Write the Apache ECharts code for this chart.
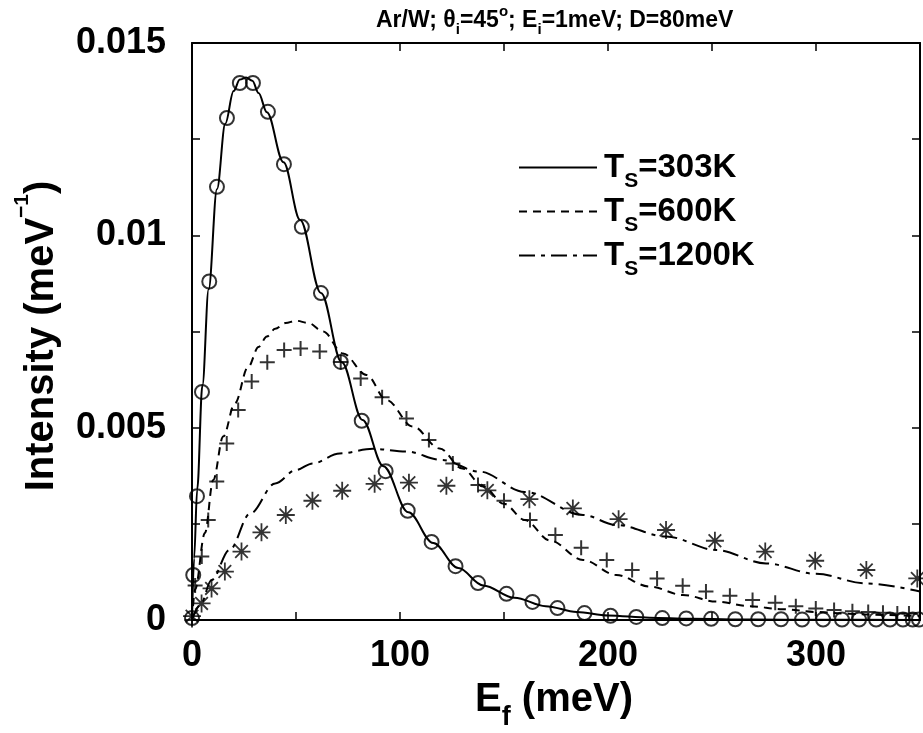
<!DOCTYPE html>
<html>
<head>
<meta charset="utf-8">
<script src="https://cdn.jsdelivr.net/npm/echarts@6/dist/echarts.min.js"></script>
<style>
  html, body { margin: 0; padding: 0; background: #fff; }
  #chart { width: 923px; height: 733px; }
</style>
</head>
<body>
<div id="chart"></div>
<script>
// Ar/W energy distributions: simulated points and model curves at three surface temperatures

// Simulation, Ts = 303 K (circles)
const ef303 = [0, 0.6, 2.4, 4.8, 8.3, 12, 16.8, 23, 29.3, 36.5, 44.2, 52.8, 62, 71.5, 81.6, 93.1, 103.7, 115.2, 126.7, 137.5, 151.2, 163.7, 175.7, 188.7, 201.2, 213.6, 226.1, 237.6, 249.6, 261.2, 272.2, 283.2, 293.3, 303.4, 312.5, 320.7, 328.9, 335.6, 341.8, 346.5, 349.5];
const in303 = [0.00005, 0.00117, 0.00322, 0.00593, 0.0088, 0.01126, 0.01305, 0.01396, 0.01396, 0.01321, 0.01185, 0.01022, 0.0085, 0.00671, 0.00518, 0.00387, 0.00284, 0.00203, 0.0014, 0.00096, 0.00068, 0.00047, 0.00031, 0.00018, 0.00011, 0.00008, 0.00005, 0.00004, 0.00003, 0.00002, 0.00002, 0.00002, 0.00001, 0.00001, 0.00001, 0.00001, 0.00001, 0.00001, 0.00001, 0.00001, 0.00001];

// Simulation, Ts = 600 K (plus signs)
const ef600 = [0, 1.5, 4.7, 7.8, 11.9, 16.7, 22.2, 28.7, 36.2, 44.3, 52.2, 61.4, 71.5, 81.1, 91.4, 103.1, 113.9, 125.4, 137.5, 150, 162.5, 174.7, 187.1, 199.4, 211.6, 223.6, 235.9, 247.1, 258.6, 269.5, 280.4, 290.3, 299.9, 308.7, 317.5, 325.1, 332.2, 339.1, 344.7];
const in600 = [0, 0.0009, 0.00165, 0.0026, 0.0036, 0.00459, 0.00546, 0.0062, 0.0067, 0.00702, 0.00706, 0.00698, 0.00671, 0.00628, 0.00579, 0.00524, 0.00468, 0.00407, 0.00351, 0.0031, 0.0026, 0.00221, 0.00188, 0.00156, 0.0013, 0.00108, 0.00089, 0.00074, 0.00063, 0.00052, 0.00045, 0.00036, 0.0003, 0.00026, 0.00023, 0.00021, 0.00019, 0.00017, 0.00017];

// Simulation, Ts = 1200 K (asterisks)
const ef1200 = [0, 4.6, 9.4, 15.8, 23.8, 33.4, 45.1, 57.9, 72.2, 87.8, 104.3, 122.3, 142, 162.2, 183.1, 205.1, 227.9, 251.4, 275.6, 299.6, 324.2, 348.7];
const in1200 = [0.0001, 0.00043, 0.00082, 0.00126, 0.00178, 0.00228, 0.00273, 0.0031, 0.00336, 0.00354, 0.00357, 0.00349, 0.00337, 0.00314, 0.0029, 0.00262, 0.00234, 0.00206, 0.00178, 0.00154, 0.0013, 0.00108];

// Model curves
const curveEf303 = [0, 1, 2.5, 5, 8, 12, 16, 20, 23, 26, 29, 32, 36, 44, 52, 62, 72, 82, 92, 104, 116, 128, 140, 155, 170, 185, 200, 220, 240, 270, 300, 350];
const curveIn303 = [0, 0.0016, 0.0034, 0.0061, 0.0086, 0.0112, 0.0129, 0.01375, 0.01405, 0.0141, 0.01402, 0.0137, 0.0132, 0.0119, 0.0104, 0.0085, 0.0067, 0.0052, 0.004, 0.0028, 0.002, 0.00135, 0.0009, 0.00058, 0.00036, 0.00021, 0.00012, 0.00006, 0.00003, 0.00001, 0.000005, 0];

const curveEf600 = [0, 1.5, 6.2, 10.2, 15, 20.6, 27, 32, 36, 40, 45, 50, 56, 63, 72.6, 83.9, 93.5, 106.2, 119, 130, 140, 150, 160, 172, 188, 204, 220, 236, 252, 268, 284, 300, 316, 332, 350];
const curveIn600 = [0, 0.0008, 0.00226, 0.00364, 0.00477, 0.00563, 0.00658, 0.0071, 0.00737, 0.00757, 0.00772, 0.00778, 0.00772, 0.0075, 0.00693, 0.00637, 0.00572, 0.00503, 0.00446, 0.00394, 0.00347, 0.00302, 0.0026, 0.00207, 0.00156, 0.00117, 0.00087, 0.00065, 0.00048, 0.00036, 0.00028, 0.00021, 0.00016, 0.00013, 0.0001];

const curveEf1200 = [0, 4, 9.4, 18, 28, 40, 50, 58, 71, 87, 103, 120, 138, 160, 188, 204, 228, 252, 276, 300, 324, 350];
const curveIn1200 = [0, 0.0004, 0.00104, 0.00182, 0.00277, 0.00355, 0.0039, 0.00407, 0.00433, 0.00445, 0.00438, 0.00416, 0.00386, 0.00333, 0.00273, 0.00247, 0.00217, 0.00182, 0.00147, 0.0012, 0.00095, 0.00074];

// Axis ticks
const xTicks = [0, 100, 200, 300];
const yTicks = ['0', '0.005', '0.01', '0.015'];

const pairs = (xs, ys) => xs.map((x, i) => [x, ys[i]]);

const FONT = '"Liberation Sans", Arial, sans-serif';
const PLUS = 'path://M10,0 L10,20 M0,10 L20,10';
const STAR = 'path://M10,0 L10,20 M0,10 L20,10 M3,3 L17,17 M17,3 L3,17';

// Rich-text styles: base text, subscript (shifted down) and superscript (shifted up)
const richText = (size, lh, subSize, subDrop, supSize, supRise) => ({
  b: { fontFamily: FONT, fontWeight: 'bold', fontSize: size, color: '#000', fill: '#000', lineHeight: lh },
  s: { fontFamily: FONT, fontWeight: 'bold', fontSize: subSize, color: '#000', fill: '#000', verticalAlign: 'bottom', padding: [0, 0, -subDrop, 0] },
  p: { fontFamily: FONT, fontWeight: 'bold', fontSize: supSize, color: '#000', fill: '#000', verticalAlign: 'top', padding: [-supRise, 0, 0, 0] }
});

const chart = echarts.init(document.getElementById('chart'), null, { renderer: 'canvas' });

const axisCommon = {
  type: 'value',
  axisLine: { show: true, onZero: false, lineStyle: { color: '#000', width: 2 } },
  axisTick: { show: true, inside: true, length: 8, lineStyle: { color: '#000', width: 1.5 } },
  splitLine: { show: false }
};

const lineSeries = (name, xs, ys, type) => ({
  name: name,
  type: 'line',
  data: pairs(xs, ys),
  showSymbol: false,
  symbol: 'none',
  smooth: 0.35,
  smoothMonotone: 'x',
  clip: true,
  lineStyle: { color: '#000', width: 2, type: type },
  itemStyle: { color: '#000' },
  z: 3
});

const markSeries = (name, xs, ys, symbol, size, width) => ({
  name: name,
  type: 'scatter',
  data: pairs(xs, ys),
  symbol: symbol,
  symbolSize: size,
  symbolKeepAspect: true,
  clip: false,
  itemStyle: { color: 'rgba(0,0,0,0)', borderColor: '#000', borderWidth: width },
  z: 4
});

const option = {
  backgroundColor: '#fff',
  animation: false,
  title: {
    text: '{b|Ar/W; θ}{s|i}{b|=45}{p|o}{b|; E}{s|i}{b|=1meV; D=80meV}',
    left: 371,
    top: 4,
    textStyle: { rich: richText(23, 24, 15, 4, 15, 5) }
  },
  grid: { left: 192, right: 2, top: 43, bottom: 113, show: false },
  legend: {
    orient: 'vertical',
    left: 513,
    top: 146,
    itemWidth: 78,
    itemHeight: 12,
    itemGap: 3,
    data: ['303K', '600K', '1200K'],
    formatter: name => '{b|T}{s|S}{b|=' + name + '}',
    itemStyle: { opacity: 0 },
    textStyle: { rich: richText(33, 31, 21, 9, 21, 0), padding: [0, 0, 0, 2] },
    selectedMode: false
  },
  xAxis: [
    Object.assign({}, axisCommon, {
      position: 'bottom', min: 0, max: 350, interval: 50,
      axisLabel: {
        margin: 18, color: '#000', fontFamily: FONT, fontWeight: 'bold', fontSize: 36,
        formatter: v => (xTicks.indexOf(v) >= 0 ? String(v) : '')
      }
    }),
    Object.assign({}, axisCommon, {
      position: 'top', min: 0, max: 350, interval: 50,
      axisLabel: { show: false }
    })
  ],
  yAxis: [
    Object.assign({}, axisCommon, {
      position: 'left', min: 0, max: 0.015, interval: 0.0025,
      axisLabel: {
        margin: 26, color: '#000', fontFamily: FONT, fontWeight: 'bold', fontSize: 36,
        formatter: v => {
          const k = Math.round(v / 0.0025);
          return k % 2 === 0 ? yTicks[k / 2] : '';
        }
      }
    }),
    Object.assign({}, axisCommon, {
      position: 'right', min: 0, max: 0.015, interval: 0.0025,
      axisLabel: { show: false }
    })
  ],
  graphic: [
    {
      type: 'text',
      x: 554, y: 700,
      style: {
        text: '{b|E}{s|f}{b| (meV)}',
        align: 'center', verticalAlign: 'middle',
        rich: richText(40, 40, 27, 11, 20, 0)
      }
    },
    {
      type: 'text',
      x: 42, y: 336,
      rotation: Math.PI / 2,
      style: {
        text: '{b|Intensity (meV}{p|−1}{b|)}',
        align: 'center', verticalAlign: 'middle',
        rich: richText(40, 40, 20, 0, 21, 10)
      }
    }
  ],
  series: [
    lineSeries('303K', curveEf303, curveIn303, 'solid'),
    lineSeries('600K', curveEf600, curveIn600, [8, 6]),
    lineSeries('1200K', curveEf1200, curveIn1200, [16, 6, 4, 6]),
    markSeries('sim303', ef303, in303, 'circle', 14, 2),
    markSeries('sim600', ef600, in600, PLUS, 15, 2),
    markSeries('sim1200', ef1200, in1200, STAR, 18, 1.8)
  ]
};

chart.setOption(option);
</script>
</body>
</html>
